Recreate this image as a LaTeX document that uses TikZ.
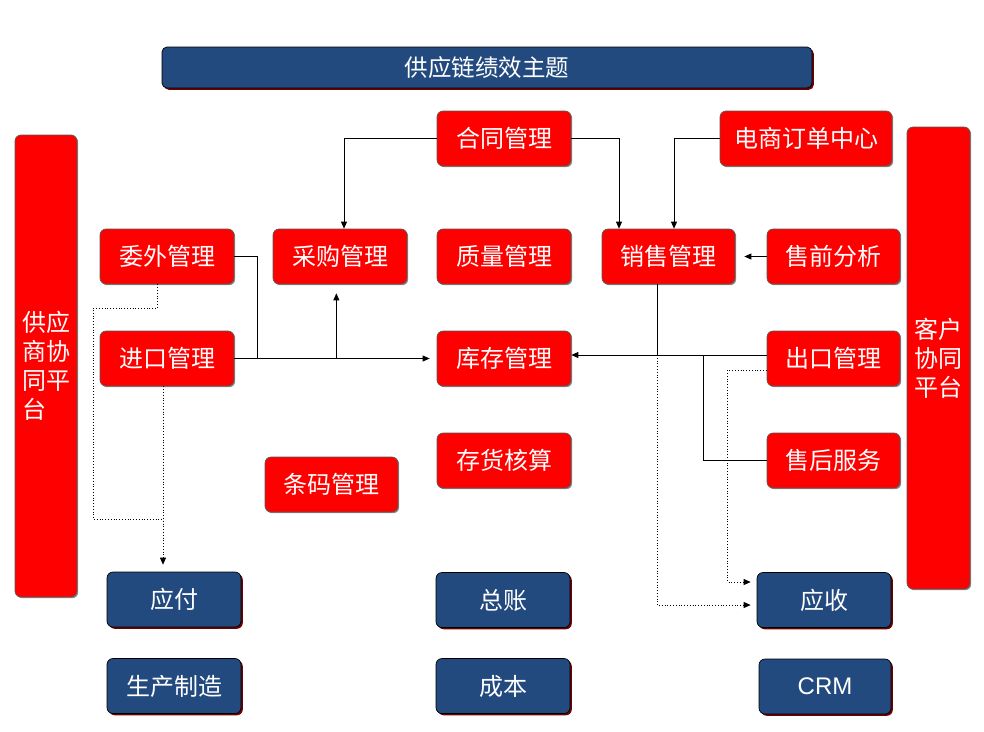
\documentclass[tikz,border=0pt]{standalone}
\usepackage{fontspec}
\newfontfamily\cjk{Noto Sans CJK SC}
\newfontfamily\lsans{Liberation Sans}
\usetikzlibrary{arrows.meta,shadows,calc}
\definecolor{boxblue}{RGB}{34,74,126}
\definecolor{shadowred}{RGB}{110,0,0}
\begin{document}
\begin{tikzpicture}[x=1pt,y=-1pt,
  base/.style={rounded corners=6pt, text=white, inner sep=0pt, align=center},
  rbox/.style={base, fill=red, draw=black!65, line width=0.7pt,
    drop shadow={shadow xshift=1.2pt, shadow yshift=-1.2pt, fill=black!45, opacity=1},
    minimum width=134pt, minimum height=55pt, font=\cjk\fontsize{24}{28}\selectfont},
  bbox/.style={base, fill=boxblue, draw=black, line width=0.7pt,
    drop shadow={shadow xshift=1.8pt, shadow yshift=-1.8pt, fill=shadowred, opacity=1},
    minimum width=134pt, minimum height=55pt, font=\cjk\fontsize{24}{28}\selectfont},
  side/.style={base, fill=red, draw=black!65, line width=0.7pt,
    drop shadow={shadow xshift=1.2pt, shadow yshift=-1.2pt, fill=black!45, opacity=1},
    font=\cjk\fontsize{24}{29}\selectfont, align=left},
  con/.style={draw=black, line width=0.8pt},
  arr/.style={con, -{Triangle[length=7pt,width=6pt]}},
  dot/.style={draw=black, line width=0.8pt, dotted},
  darr/.style={dot, -{Triangle[length=7pt,width=6pt]}}
]
\useasboundingbox (0,0) rectangle (984,731);

% title
\node[bbox, minimum width=650pt, minimum height=41pt, rounded corners=5pt,
  font=\cjk\fontsize{23.5}{26}\selectfont] (title) at (487,67.5) {供应链绩效主题};

% side panels
\node[side, minimum width=62pt, minimum height=462pt] (gys) at (46,366) {供应\\商协\\同平\\台};
\node[side, minimum width=63pt, minimum height=462pt] (kehu) at (938.5,358) {客户\\协同\\平台};

% red boxes
\node[rbox] (hetong) at (504,138.5) {合同管理};
\node[rbox, minimum width=172pt] (dianshang) at (806,138.5) {电商订单中心};
\node[rbox] (weiwai) at (167,256.5) {委外管理};
\node[rbox] (caigou) at (340,256.5) {采购管理};
\node[rbox] (zhiliang) at (504,256.5) {质量管理};
\node[rbox, minimum width=133pt] (xiaoshou) at (668.5,256.5) {销售管理};
\node[rbox, minimum width=133pt] (shouqian) at (833.5,256.5) {售前分析};
\node[rbox] (jinkou) at (167,358.5) {进口管理};
\node[rbox] (kucun) at (504,358.5) {库存管理};
\node[rbox, minimum width=133pt] (chukou) at (833.5,358.5) {出口管理};
\node[rbox] (cunhuo) at (504,460.5) {存货核算};
\node[rbox, minimum width=133pt] (tiaoma) at (331.5,484.5) {条码管理};
\node[rbox, minimum width=133pt] (shouhou) at (833.5,460.5) {售后服务};

% blue boxes
\node[bbox] (yingfu) at (174,599.5) {应付};
\node[bbox] (zongzhang) at (503,600) {总账};
\node[bbox] (yingshou) at (824,600) {应收};
\node[bbox] (shengchan) at (174,686) {生产制造};
\node[bbox] (chengben) at (503,686) {成本};
\node[bbox, minimum width=132pt, font=\lsans\fontsize{24}{28}\selectfont] (crm) at (825,686.5) {CRM};

% connectors (solid)
\draw[arr] (hetong.west) -| ($(caigou.north)+(4,0)$);
\draw[arr] (hetong.east) -| ($(xiaoshou.north)+(-49.5,0)$);
\draw[arr] (dianshang.west) -| ($(xiaoshou.north)+(5.5,0)$);
\draw[arr, shorten >=9pt] (shouqian.west) -- (xiaoshou.east);

\coordinate (jw) at ($(jinkou.east)+(23,0)$);
\coordinate (jc) at ($(jinkou.east)+(102,0)$);
\draw[con] (weiwai.east) -| (jw);
\draw[arr, shorten >=7pt] (jinkou.east) -- (kucun.west);
\draw[arr, shorten >=9pt] (jc) -- (jc |- caigou.south);

\coordinate (ex) at ($(chukou.west)+(0,-3.5)$);
\coordinate (sj) at ($(ex)+(-63,0)$);
\draw[arr] (ex) -- (ex -| kucun.east);
\draw[con] (shouhou.west) -| (sj);

% dotted connectors
\coordinate (xs) at ($(xiaoshou.south)+(-11.5,0)$);
\coordinate (ysa) at ($(yingshou.west)+(0,5)$);
\coordinate (ysb) at ($(yingshou.west)+(0,-18)$);
\draw[con] (xs) -- (xs |- ex);
\draw[darr, shorten >=6pt] (xs |- ex) |- (ysa);

\coordinate (ce) at ($(chukou.west)+(0,11.5)$);
\coordinate (cx) at ($(ce)+(-39,0)$);
\draw[darr, shorten >=6pt] (ce) -- (cx) |- (ysb);

\coordinate (wb) at ($(weiwai.south)+(-10,0)$);
\coordinate (wb2) at ($(wb)+(0,24)$);
\coordinate (jb) at ($(jinkou.south)+(-4,0)$);
\coordinate (lb) at (93,519);
\draw[dot] (wb) -- (wb2) -| (lb) -- (lb -| jb);
\draw[darr, shorten >=7pt] (jb) -- (jb |- yingfu.north);
\end{tikzpicture}
\end{document}
